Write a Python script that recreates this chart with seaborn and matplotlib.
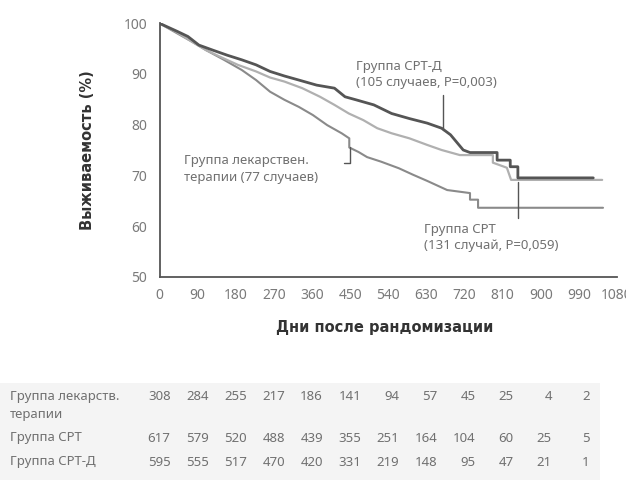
import matplotlib
matplotlib.use("Agg")
import matplotlib.pyplot as plt
import matplotlib.transforms as mtransforms
import seaborn as sns
import pandas as pd

# ---------------- data ----------------
drug_days = [0, 42, 76, 110, 152, 194, 228, 261, 295, 329, 362, 396, 430, 448, 448, 470, 490,
             523, 565, 599, 632, 679, 733, 733, 752, 752, 1047]
drug_surv = [100, 98.0, 96.4, 94.7, 92.8, 90.8, 88.8, 86.5, 84.9, 83.5, 81.9, 79.9, 78.3, 77.3,
             75.5, 74.6, 73.6, 72.7, 71.4, 70.1, 68.9, 67.1, 66.5, 65.2, 65.2, 63.6, 63.6]

crt_days = [0, 42, 76, 110, 143, 185, 228, 261, 295, 337, 379, 413, 447, 481, 514, 548, 590,
            632, 666, 709, 787, 787, 820, 830, 1045]
crt_surv = [100, 98.2, 96.4, 94.7, 93.4, 91.8, 90.5, 89.3, 88.5, 87.2, 85.5, 83.9, 82.2, 80.9,
            79.3, 78.3, 77.3, 76.0, 75.0, 74.0, 74.0, 72.5, 71.5, 69.1, 69.1]

crtd_days = [0, 42, 67, 93, 126, 160, 194, 228, 261, 295, 329, 371, 413, 438, 464, 506, 548,
             590, 632, 666, 687, 704, 717, 733, 797, 797, 828, 828, 846, 846, 1024]
crtd_surv = [100, 98.4, 97.4, 95.7, 94.7, 93.7, 92.8, 91.8, 90.5, 89.6, 88.8, 87.8, 87.2, 85.5,
             84.9, 83.9, 82.2, 81.2, 80.3, 79.3, 78.0, 76.3, 75.0, 74.5, 74.5, 73.0, 73.0, 71.7,
             71.7, 69.5, 69.5]

x_ticks = [0, 90, 180, 270, 360, 450, 540, 630, 720, 810, 900, 990, 1080]
y_ticks = [50, 60, 70, 80, 90, 100]

risk_labels = ["Группа лекарств.\nтерапии", "Группа СРТ", "Группа СРТ-Д"]
risk_drug = [308, 284, 255, 217, 186, 141, 94, 57, 45, 25, 4, 2]
risk_crt = [617, 579, 520, 488, 439, 355, 251, 164, 104, 60, 25, 5]
risk_crtd = [595, 555, 517, 470, 420, 331, 219, 148, 95, 47, 21, 1]
risk_days = [0, 90, 180, 270, 360, 450, 540, 630, 720, 810, 900, 990]

label_crtd = "Группа СРТ-Д\n(105 случаев, P=0,003)"
label_drug = "Группа лекарствен.\nтерапии (77 случаев)"
label_crt = "Группа СРТ\n(131 случай, P=0,059)"

# ---------------- style ----------------
sns.set_style("white")
plt.rcParams["font.family"] = ["Noto Sans", "DejaVu Sans"]

W, H = 626, 488
fig = plt.figure(figsize=(W / 100, H / 100), dpi=100)
fig.patch.set_facecolor("white")

left_px, right_px, top_px, bot_px = 159.5, 617, 23.3, 276.7
ax = fig.add_axes([left_px / W, 1 - bot_px / H, (right_px - left_px) / W, (bot_px - top_px) / H])
ax.set_facecolor("none")

# table background band (behind everything)
band = plt.Rectangle((0, 1 - 480 / H), 600 / W, 97 / H, transform=fig.transFigure,
                     facecolor="#f4f4f4", edgecolor="none", zorder=-10)
fig.patches.append(band)

def df_of(d, s):
    return pd.DataFrame({"day": d, "surv": s})

sns.lineplot(data=df_of(drug_days, drug_surv), x="day", y="surv", sort=False, estimator=None,
             color="#8a8a8a", linewidth=1.5, ax=ax)
sns.lineplot(data=df_of(crt_days, crt_surv), x="day", y="surv", sort=False, estimator=None,
             color="#b0b0b0", linewidth=1.6, ax=ax)
sns.lineplot(data=df_of(crtd_days, crtd_surv), x="day", y="surv", sort=False, estimator=None,
             color="#555555", linewidth=2.0, ax=ax)

ax.set_xlim(0, 1080)
ax.set_ylim(50, 100)
ax.set_xticks(x_ticks)
ax.set_yticks(y_ticks)
ax.set_xticklabels([str(t) for t in x_ticks])
for sp in ["top", "right"]:
    ax.spines[sp].set_visible(False)
for sp in ["left", "bottom"]:
    ax.spines[sp].set_color("#555555")
    ax.spines[sp].set_linewidth(1.3)
ax.tick_params(axis="both", direction="out", length=5, width=1.1, color="#555555",
               labelcolor="#7a7a7a", labelsize=10, pad=3)
ax.tick_params(axis="y", length=6)

ax.set_xlabel("Дни после рандомизации", fontsize=10.5, fontweight="bold", color="#333333",
              family="DejaVu Sans")
ax.set_ylabel("Выживаемость (%)", fontsize=10.5, fontweight="bold", color="#333333",
              family="DejaVu Sans")
ax.xaxis.set_label_coords(0.493, -0.17)
ax.yaxis.set_label_coords(-0.14, 0.5)

# annotations
txt_kw = dict(fontsize=9.5, color="#707070", linespacing=1.35, va="center", ha="left")
ax.text(464, 89.9, label_crtd, **txt_kw)
ax.text(59, 71.3, label_drug, **txt_kw)
ax.text(624, 57.7, label_crt, **txt_kw)
ax.plot([670, 670], [85.9, 78.9], color="#555555", lw=1.0)
ax.plot([436, 450, 450], [72.4, 72.4, 75.6], color="#555555", lw=1.0)
ax.plot([847, 847], [68.7, 61.5], color="#555555", lw=1.0)

# risk table
trans = mtransforms.blended_transform_factory(ax.transData, fig.transFigure)
row_y = [397, 438, 462]
rows = [risk_drug, risk_crt, risk_crtd]
for lab, yy, vals in zip(risk_labels, row_y, rows):
    fig.text(10 / W, 1 - (yy - 7) / H, lab, fontsize=9.5, color="#707070", va="top", ha="left",
             linespacing=1.5)
    for d, v in zip(risk_days, vals):
        ax.text(d + 26, 1 - yy / H, str(v), transform=trans, fontsize=9.5, color="#707070",
                va="center", ha="right", clip_on=False, zorder=5)

fig.savefig("out.png", dpi=100)
